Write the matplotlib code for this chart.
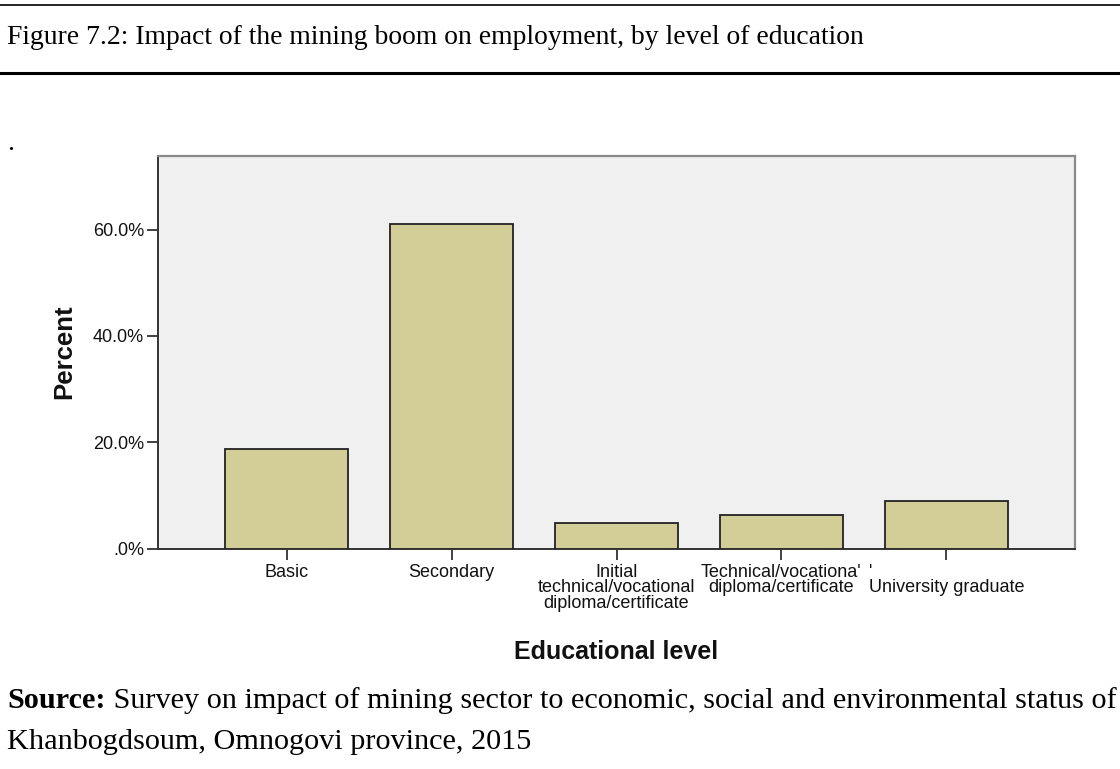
import matplotlib
matplotlib.use("Agg")
import matplotlib.pyplot as plt
from matplotlib.lines import Line2D

categories = ["Basic", "Secondary",
              "Initial\ntechnical/vocational\ndiploma/certificate",
              "Technical/vocationa'\ndiploma/certificate",
              "'\nUniversity graduate"]
percents = [18.7, 61.0, 4.8, 6.3, 9.0]
yticks = [0, 20, 40, 60]
ytick_labels = [".0%", "20.0%", "40.0%", "60.0%"]

title = "Figure 7.2: Impact of the mining boom on employment, by level of education"
source_bold = "Source:"
source_rest = " Survey on impact of mining sector to economic, social and environmental status of"
source_line2 = "Khanbogdsoum, Omnogovi province, 2015"

W, H = 1120, 769
fig = plt.figure(figsize=(W / 100, H / 100), dpi=100)
fig.patch.set_facecolor("white")

ax = fig.add_axes([158 / W, 1 - 548.7 / H, (1075 - 158) / W, (548.7 - 155.7) / H])
ax.set_facecolor("#f0f0f0")
x = list(range(len(categories)))
ax.bar(x, percents, width=0.75, color="#d3ce97", edgecolor="#222222", linewidth=1.3, zorder=3)
ax.set_xlim(-0.78, len(categories) - 1 + 0.78)
ax.set_ylim(0, 73.9)
ax.set_yticks(yticks)
ax.set_yticklabels(ytick_labels)
ax.set_xticks(x)
ax.set_xticklabels(categories, linespacing=0.88)
for lbl in ax.get_xticklabels():
    lbl.set_multialignment("center")
ax.get_xticklabels()[-1].set_multialignment("left")

sans = ["Liberation Sans", "DejaVu Sans"]
for lbl in ax.get_xticklabels() + ax.get_yticklabels():
    lbl.set_fontfamily(sans)
    lbl.set_fontsize(13)
    lbl.set_color("#111111")
ax.tick_params(axis="both", direction="out", length=8, width=1.3, color="#333333")
ax.tick_params(axis="x", pad=3)
ax.tick_params(axis="y", pad=2)
for s in ["left", "bottom"]:
    ax.spines[s].set_color("#333333")
    ax.spines[s].set_linewidth(1.4)
for s in ["top", "right"]:
    ax.spines[s].set_color("#8a8a8a")
    ax.spines[s].set_linewidth(1.6)

fig.text(64 / W, 1 - 352 / H, "Percent", rotation=90, ha="center", va="center",
         fontfamily=sans, fontweight="bold", fontsize=18.5, color="#111111")
fig.text(616.5 / W, 1 - 652 / H, "Educational level", ha="center", va="center",
         fontfamily=sans, fontweight="bold", fontsize=18, color="#111111")

serif = ["Liberation Serif", "DejaVu Serif"]
# header rules
fig.add_artist(Line2D([0, 1], [1 - 4.5 / H, 1 - 4.5 / H], color="black", linewidth=1.2))
fig.add_artist(Line2D([0, 1], [1 - 73 / H, 1 - 73 / H], color="black", linewidth=2.2))
fig.text(7 / W, 1 - 38 / H, title, ha="left", va="center", fontfamily=serif, fontsize=19.9)
fig.text(7 / W, 1 - 143 / H, ".", ha="left", va="center", fontfamily=serif, fontsize=20)

t1 = fig.text(7 / W, 1 - 708 / H, source_bold, ha="left", va="baseline",
              fontfamily=serif, fontweight="bold", fontsize=21.8)
renderer = fig.canvas.get_renderer()
bb = t1.get_window_extent(renderer)
fig.text(bb.x1 / W, 1 - 708 / H, source_rest, ha="left", va="baseline",
         fontfamily=serif, fontsize=21.8)
fig.text(7 / W, 1 - 749 / H, source_line2, ha="left", va="baseline",
         fontfamily=serif, fontsize=21.8)

fig.savefig("out.png", dpi=100, facecolor="white")
